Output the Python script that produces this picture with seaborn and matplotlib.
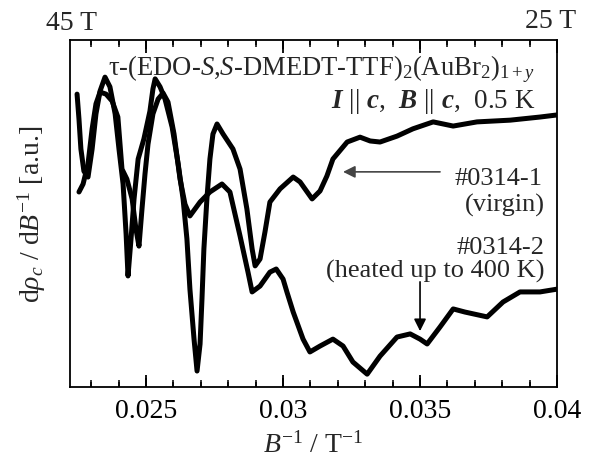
import numpy as np
import pandas as pd
import seaborn as sns
import matplotlib
matplotlib.use("Agg")
import matplotlib.pyplot as plt
from matplotlib.ticker import FixedLocator

# ---- data (B^-1 in T^-1, dρ/dB^-1 in arbitrary units) ----
virgin_x = [0.02248, 0.02255, 0.02262, 0.02273, 0.02288, 0.02303, 0.02317, 0.02332,
            0.02350, 0.02368, 0.02387, 0.02401, 0.02416, 0.02427, 0.02434, 0.02445,
            0.02456, 0.02471, 0.02492, 0.02514, 0.02525, 0.02533, 0.02551, 0.02569,
            0.02595, 0.02617, 0.02635, 0.02649, 0.02660, 0.02675, 0.02686, 0.02697,
            0.02704, 0.02711, 0.02722, 0.02733, 0.02744, 0.02759, 0.02781, 0.02817,
            0.02843, 0.02868, 0.02887, 0.02898, 0.02916, 0.02934, 0.02952, 0.02989,
            0.03037, 0.03062, 0.03106, 0.03135, 0.03160, 0.03182, 0.03234, 0.03281,
            0.03318, 0.03354, 0.03416, 0.03474, 0.03548, 0.03621, 0.03708, 0.03829,
            0.03938, 0.04000]
virgin_y = [8.44, 7.72, 6.86, 6.22, 6.05, 6.86, 7.87, 8.53,
            8.93, 8.65, 7.87, 6.86, 5.85, 4.41, 3.20, 4.27,
            5.42, 6.57, 7.15, 7.95, 8.59, 8.88, 8.65, 8.30,
            7.49, 6.43, 5.42, 4.27, 2.82, 1.38, 0.46, 1.24,
            2.54, 3.98, 5.42, 6.57, 7.29, 7.58, 7.29, 6.86,
            6.28, 5.13, 3.98, 3.49, 3.69, 4.47, 5.33, 5.71,
            6.05, 5.91, 5.42, 5.65, 6.08, 6.57, 7.06, 7.20,
            7.09, 7.06, 7.23, 7.44, 7.64, 7.52, 7.64, 7.69,
            7.78, 7.84]

heated_x = [0.02255, 0.02270, 0.02288, 0.02303, 0.02317, 0.02332, 0.02354, 0.02376,
            0.02397, 0.02412, 0.02430, 0.02449, 0.02463, 0.02474, 0.02485, 0.02496,
            0.02507, 0.02525, 0.02544, 0.02562, 0.02580, 0.02602, 0.02624, 0.02642,
            0.02660, 0.02697, 0.02733, 0.02777, 0.02806, 0.02843, 0.02872, 0.02887,
            0.02916, 0.02952, 0.02975, 0.03000, 0.03014, 0.03037, 0.03073, 0.03098,
            0.03135, 0.03182, 0.03219, 0.03255, 0.03307, 0.03354, 0.03416, 0.03464,
            0.03500, 0.03526, 0.03573, 0.03621, 0.03664, 0.03745, 0.03803, 0.03865,
            0.03938, 0.04000]
heated_y = [5.62, 5.85, 6.43, 7.44, 8.16, 8.50, 8.44, 8.24,
            7.78, 6.28, 5.99, 5.42, 4.55, 4.06, 5.13, 6.14,
            7.00, 7.87, 8.30, 8.47, 8.21, 7.29, 5.99, 5.27,
            4.93, 5.33, 5.62, 5.85, 5.62, 4.35, 3.31, 2.74,
            2.91, 3.31, 3.40, 3.11, 2.74, 2.16, 1.38, 1.01,
            1.18, 1.38, 1.18, 0.72, 0.37, 0.89, 1.44, 1.53,
            1.38, 1.24, 1.73, 2.25, 2.16, 2.02, 2.45, 2.74,
            2.74, 2.82]

xtick_vals = [0.025, 0.03, 0.035, 0.04]
xtick_labels = ["0.025", "0.03", "0.035", "0.04"]
minor_vals = [0.023, 0.024, 0.026, 0.027, 0.028, 0.029, 0.031, 0.032, 0.033,
              0.034, 0.036, 0.037, 0.038, 0.039]

sns.set_theme(style="ticks")
plt.rcParams.update({
    "font.family": ["Liberation Serif", "DejaVu Serif"],
    "mathtext.fontset": "custom",
    "mathtext.rm": "Liberation Serif",
    "mathtext.it": "Liberation Serif:italic",
    "mathtext.bf": "Liberation Serif:bold",
    "mathtext.bfit": "Liberation Serif:bold:italic",
    "xtick.direction": "in",
    "xtick.top": True,
    "xtick.major.size": 9,
    "xtick.minor.size": 5,
    "xtick.color": "black",
})

fig = plt.figure(figsize=(5.91, 4.64), dpi=100)
ax = fig.add_axes([70 / 591, 1 - 388 / 464, 487 / 591, 347 / 464])

df_v = pd.DataFrame({"x": virgin_x, "y": virgin_y})
df_h = pd.DataFrame({"x": heated_x, "y": heated_y})
sns.lineplot(data=df_v, x="x", y="y", ax=ax, color="black", lw=3.6,
             sort=False, estimator=None)
sns.lineplot(data=df_h, x="x", y="y", ax=ax, color="black", lw=3.6,
             sort=False, estimator=None)

ax.set_xlim(1 / 45, 0.04)
ax.set_ylim(0, 10)
ax.xaxis.set_major_locator(FixedLocator(xtick_vals))
ax.set_xticklabels(xtick_labels)
ax.xaxis.set_minor_locator(FixedLocator(minor_vals))
ax.set_yticks([])

ax.set_xlabel(r"$B^{-1}$ / T$^{-1}$", fontsize=20, labelpad=6)
ax.set_ylabel(r"d$\rho_c$ / d$B^{-1}$ [a.u.]", fontsize=20, labelpad=16)

tr = ax.transAxes
ax.text(0.955, 0.902, r"τ-(EDO-$S$,$S$-DMEDT-TTF)$_2$(AuBr$_2$)$_{1+y}$",
        transform=tr, ha="right", va="baseline", fontsize=19.2)
ax.text(0.955, 0.807,
        r"$\mathbfit{I}$ || $\mathbfit{c}$,  $\mathbfit{B}$ || $\mathbfit{c}$,  0.5 K",
        transform=tr, ha="right", va="baseline", fontsize=19.5)
ax.text(0.971, 0.585, "#0314-1", transform=tr, ha="right", va="baseline", fontsize=19)
ax.text(0.975, 0.507, "(virgin)", transform=tr, ha="right", va="baseline", fontsize=19)
ax.text(0.975, 0.385, "#0314-2", transform=tr, ha="right", va="baseline", fontsize=19)
ax.text(0.975, 0.318, "(heated up to 400 K)", transform=tr, ha="right", va="baseline", fontsize=19)

ax.annotate("", xy=(0.03219, 6.20), xytext=(0.03573, 6.20),
            arrowprops=dict(arrowstyle="-|>", color="#444444", lw=1.2,
                            mutation_scale=18, shrinkA=0, shrinkB=0))
ax.annotate("", xy=(0.035, 1.61), xytext=(0.035, 3.03),
            arrowprops=dict(arrowstyle="-|>", color="black", lw=1.2,
                            mutation_scale=18, shrinkA=0, shrinkB=0))

fig.text(72 / 591, 1 - 30 / 464, "45 T", ha="center", va="baseline", fontsize=20)
fig.text(551 / 591, 1 - 28 / 464, "25 T", ha="center", va="baseline", fontsize=20)

ax.set_axisbelow(False)
ax.tick_params(axis="x", which="both", direction="in", top=True, bottom=True,
               labelsize=20, pad=8, colors="black")
ax.tick_params(axis="x", which="major", length=9, width=1.3)
ax.tick_params(axis="x", which="minor", length=5, width=1.1)

xa = ax.get_xaxis_transform()
maj_len = 9 / 347
min_len = 5 / 347
ax.vlines(xtick_vals, 0, maj_len, transform=xa, color="black", lw=1.3, clip_on=False)
ax.vlines(xtick_vals, 1 - maj_len, 1, transform=xa, color="black", lw=1.3, clip_on=False)
ax.vlines(minor_vals, 0, min_len, transform=xa, color="black", lw=1.1, clip_on=False)
ax.vlines(minor_vals, 1 - min_len, 1, transform=xa, color="black", lw=1.1, clip_on=False)

for s in ax.spines.values():
    s.set_linewidth(1.3)
    s.set_edgecolor("black")

fig.savefig("out.png", dpi=100)
